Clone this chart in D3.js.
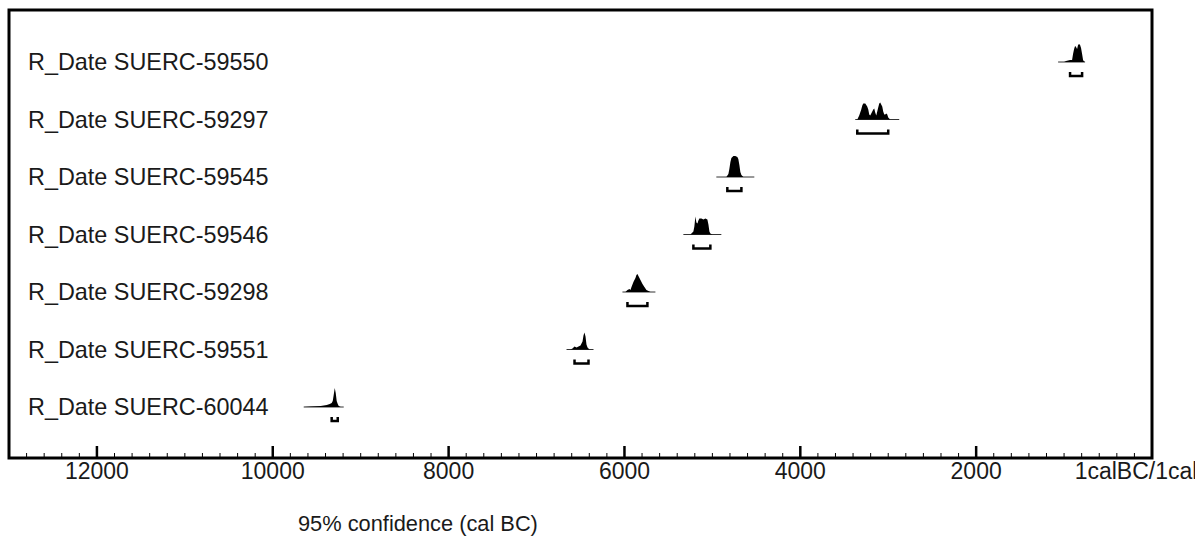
<!DOCTYPE html>
<html>
<head>
<meta charset="utf-8">
<script src="https://cdn.jsdelivr.net/npm/d3@7"></script>
<style>
  html, body { margin: 0; padding: 0; background: #fff; }
  svg { display: block; }
  text { font-family: "Liberation Sans", Arial, Helvetica, sans-serif; fill: #1a1a1a; }
</style>
</head>
<body>
<svg id="chart" width="1195" height="538"></svg>
<script>
// ---- data (years cal BC) ----
const dates = [
  "R_Date SUERC-59550",
  "R_Date SUERC-59297",
  "R_Date SUERC-59545",
  "R_Date SUERC-59546",
  "R_Date SUERC-59298",
  "R_Date SUERC-59551",
  "R_Date SUERC-60044"
];
// full span of each plotted distribution (baseline line)
const spans = [
  [1068, 761], [3375, 2875], [4955, 4523], [5330, 4898],
  [6023, 5648], [6659, 6352], [9648, 9193]
];
// 95% confidence ranges (brackets)
const ranges95 = [
  [932, 795], [3352, 3000], [4830, 4670], [5216, 5023],
  [5966, 5739], [6568, 6409], [9330, 9261]
];
// relative probability densities [year cal BC, relative density]
const dens59550 = [[1000,0],[977,1],[932,2],[909,2],[898,8],[886,13],[875,16],[864,15],[852,13],[841,17],[830,18],[818,17],[807,14],[795,8],[784,2],[773,0.5],[761,0]];
const dens59297 = [[3352,0],[3330,4],[3307,10],[3295,14],[3284,16],[3261,16],[3239,13],[3227,10],[3216,5],[3205,4],[3193,6],[3170,10],[3159,11],[3148,7],[3136,4],[3125,8],[3114,12],[3102,16],[3091,17],[3080,15],[3068,13],[3057,8],[3045,5],[3034,5],[3023,6],[3011,5],[3000,2],[2989,1],[2977,0]];
const dens59545 = [[4841,0],[4818,3],[4807,8],[4795,15],[4784,19],[4761,21],[4739,21],[4716,20],[4705,18],[4693,12],[4682,5],[4670,2],[4648,0]];
const dens59546 = [[5250,0],[5227,2],[5216,3],[5205,8],[5193,18],[5182,12],[5170,11],[5159,14],[5148,16],[5125,16],[5102,15],[5080,16],[5057,15],[5045,10],[5034,3],[5023,1],[5000,0]];
const dens59298 = [[5989,0],[5966,2],[5943,3],[5932,2],[5920,5],[5898,10],[5875,14],[5864,17],[5852,18],[5841,16],[5818,12],[5795,8],[5773,5],[5750,2],[5727,1],[5705,0]];
const dens59551 = [[6614,0],[6591,1],[6568,3],[6545,2],[6523,3],[6500,4],[6477,8],[6466,14],[6455,17],[6443,13],[6432,5],[6420,2],[6398,0]];
const dens60044 = [[9648,0],[9568,0.5],[9455,1],[9386,2],[9352,3],[9330,4],[9318,6],[9307,12],[9295,19],[9284,14],[9273,6],[9261,3],[9250,1],[9227,0]];
const densities = [dens59550, dens59297, dens59545, dens59546, dens59298, dens59551, dens60044];

const majorTicks = [12000, 10000, 8000, 6000, 4000, 2000, 0];
const majorLabels = ["12000", "10000", "8000", "6000", "4000", "2000", "1calBC/1calAD"];
const axisTitle = "95% confidence (cal BC)";

// ---- layout ----
const svg = d3.select("#chart");
const frame = { left: 9, top: 10, right: 1152, bottom: 458 };

const x = d3.scaleLinear().domain([13000, 0]).range([frame.left, frame.right]);
const yRow = d3.scalePoint().domain(dates).range([62, 407]);
const h = d3.scaleLinear().domain([0, 21]).range([0, 21]);

// frame
svg.append("rect")
  .attr("x", frame.left).attr("y", frame.top)
  .attr("width", frame.right - frame.left)
  .attr("height", frame.bottom - frame.top)
  .attr("fill", "none").attr("stroke", "#000").attr("stroke-width", 3);

// labels
svg.append("g").selectAll("text").data(dates).join("text")
  .attr("x", 28).attr("y", d => yRow(d))
  .attr("dy", "0.36em")
  .attr("font-size", 23.4)
  .text(d => d);

const area = d3.area()
  .x(d => x(d[0]))
  .y0(0)
  .y1(d => -h(d[1]))
  .curve(d3.curveLinear);

dates.forEach((name, i) => {
  const g = svg.append("g").attr("transform", `translate(0,${yRow(name)})`);
  // baseline
  g.append("line")
    .attr("x1", x(spans[i][0])).attr("x2", x(spans[i][1]))
    .attr("y1", 0).attr("y2", 0)
    .attr("stroke", "#333").attr("stroke-width", 1);
  // density
  g.append("path").datum(densities[i])
    .attr("d", area)
    .attr("fill", "#000");
  // 95% bracket
  const x0 = x(ranges95[i][0]), x1 = x(ranges95[i][1]);
  g.append("path")
    .attr("d", `M${x0},10 L${x0},14 L${x1},14 L${x1},10`)
    .attr("fill", "none").attr("stroke", "#000").attr("stroke-width", 2.5)
    .attr("stroke-linejoin", "miter");
});

// axis: minor and major ticks pointing inward
const minorTicks = d3.range(12800, -1, -200).filter(v => v % 2000 !== 0);
const axisG = svg.append("g");
axisG.selectAll("line.minor").data(minorTicks).join("line")
  .attr("class", "minor")
  .attr("x1", d => x(d)).attr("x2", d => x(d))
  .attr("y1", frame.bottom).attr("y2", frame.bottom - 5)
  .attr("stroke", "#000").attr("stroke-width", 1);
axisG.selectAll("line.major").data(majorTicks.filter(v => v !== 0)).join("line")
  .attr("class", "major")
  .attr("x1", d => x(d)).attr("x2", d => x(d))
  .attr("y1", frame.bottom).attr("y2", frame.bottom - 12)
  .attr("stroke", "#000").attr("stroke-width", 2.5);
axisG.selectAll("text").data(majorTicks).join("text")
  .attr("x", d => x(d)).attr("y", 471)
  .attr("dy", "0.36em")
  .attr("text-anchor", "middle")
  .attr("font-size", 23)
  .text((d, i) => majorLabels[i]);

svg.append("text")
  .attr("x", 298).attr("y", 523)
  .attr("dy", "0.36em")
  .attr("font-size", 21.8)
  .text(axisTitle);
</script>
</body>
</html>
